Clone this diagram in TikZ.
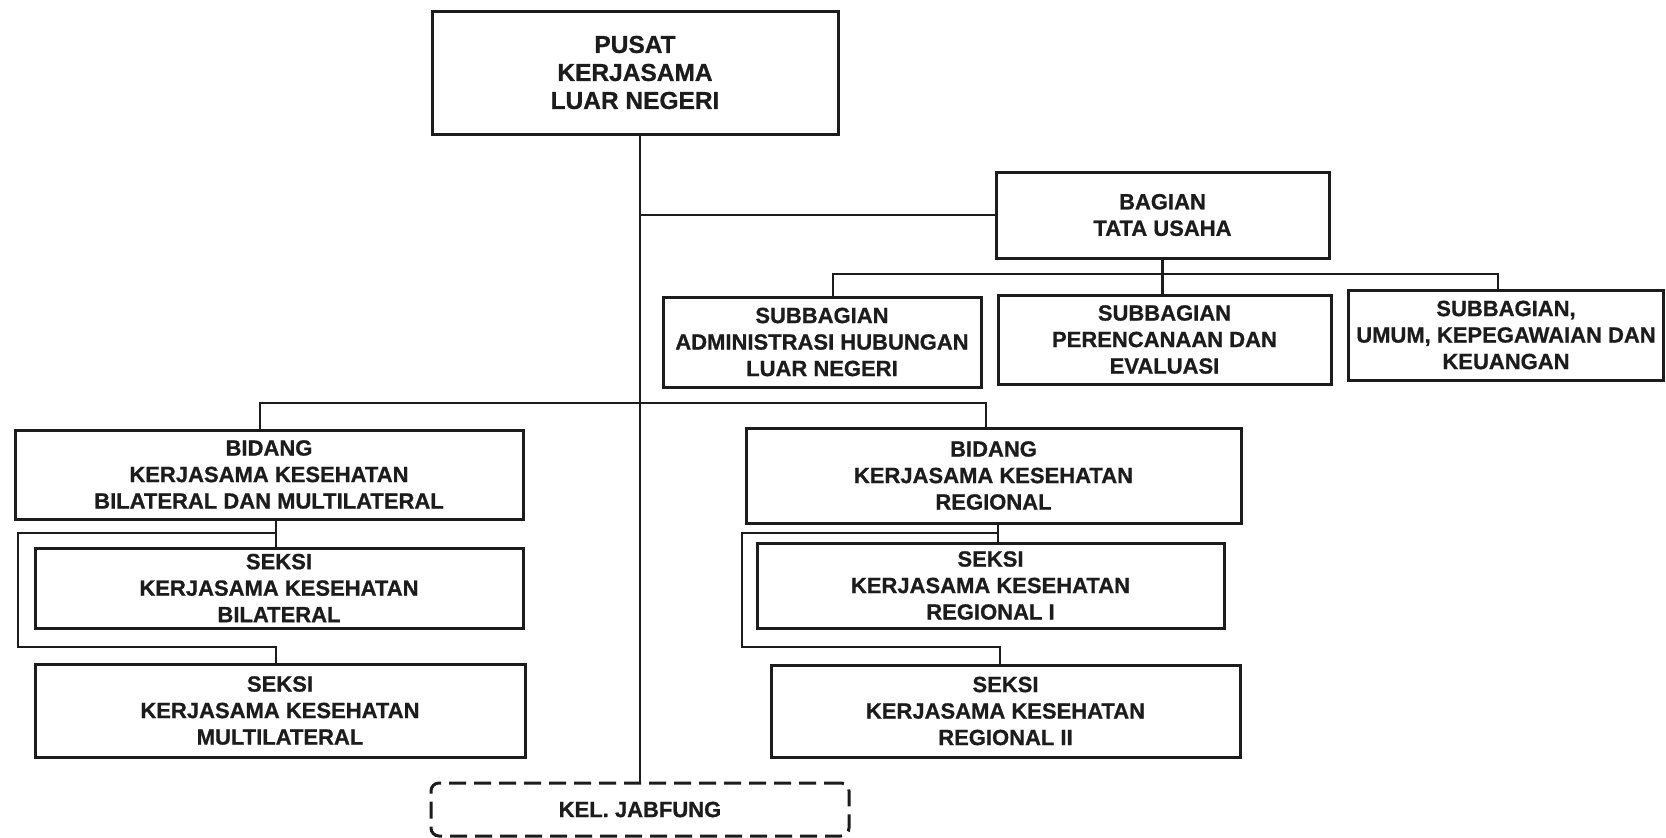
\documentclass[tikz,border=0pt]{standalone}
\usepackage{fontspec}
\setmainfont{Liberation Sans}[BoldFeatures={FakeBold=0.8}]
\usetikzlibrary{calc}
\definecolor{ink}{RGB}{28,28,28}
\begin{document}
\begin{tikzpicture}[x=1pt,y=-1pt,
  box/.style={draw=ink, line width=3pt, inner sep=0pt, outer sep=0pt,
    align=center, text=ink, font=\bfseries\fontsize{22}{26.5}\selectfont},
  kelbox/.style={box, dash pattern=on 17pt off 8pt, rounded corners=8pt},
  link/.style={draw=ink, line width=2.7pt},
]
\useasboundingbox[fill=white] (0,0) rectangle (1666,838);

% top
\node[box, minimum width=406pt, minimum height=123pt,
  font=\bfseries\fontsize{24.5}{28}\selectfont] (pusat) at (635,72.5)
  {PUSAT\\KERJASAMA\\LUAR NEGERI};

% Bagian Tata Usaha
\node[box, minimum width=333pt, minimum height=86pt] (bagian) at (1162.5,215)
  {BAGIAN\\TATA USAHA};
\node[box, minimum width=318pt, minimum height=90pt] (sub1) at (822,342)
  {SUBBAGIAN\\ADMINISTRASI HUBUNGAN\\LUAR NEGERI};
\node[box, minimum width=333pt, minimum height=89pt] (sub2) at (1164.5,339.5)
  {SUBBAGIAN\\PERENCANAAN DAN\\EVALUASI};
\node[box, minimum width=315pt, minimum height=90pt] (sub3) at (1506,335)
  {SUBBAGIAN,\\UMUM, KEPEGAWAIAN DAN\\KEUANGAN};

% Bidang left
\node[box, minimum width=508pt, minimum height=89pt] (bidL) at (269,474.5)
  {BIDANG\\KERJASAMA KESEHATAN\\BILATERAL DAN MULTILATERAL};
\node[box, minimum width=488pt, minimum height=80pt] (sekL1) at (279,588)
  {SEKSI\\KERJASAMA KESEHATAN\\BILATERAL};
\node[box, minimum width=490pt, minimum height=93pt] (sekL2) at (280,710.5)
  {SEKSI\\KERJASAMA KESEHATAN\\MULTILATERAL};

% Bidang right
\node[box, minimum width=495pt, minimum height=95pt] (bidR) at (993.5,475.5)
  {BIDANG\\KERJASAMA KESEHATAN\\REGIONAL};
\node[box, minimum width=467pt, minimum height=85pt] (sekR1) at (990.5,585.5)
  {SEKSI\\KERJASAMA KESEHATAN\\REGIONAL I};
\node[box, minimum width=469pt, minimum height=92pt] (sekR2) at (1005.5,711)
  {SEKSI\\KERJASAMA KESEHATAN\\REGIONAL II};

% Kelompok jabatan fungsional
\node[kelbox, minimum width=418pt, minimum height=53pt] (kel) at (640,809.5)
  {KEL. JABFUNG};

% spine
\draw[link] (pusat.south -| kel.north) -- (kel.north);
\draw[link] (bagian.west) -- (bagian.west -| kel.north);

% tata usaha branches
\draw[link] (bagian.south) -- (bagian.south |- sub2.north);
\draw[link] ($(sub1.north)+(11,0)$) -- ++(0,-23) -| ($(sub3.north)+(-8,0)$);

% bidang bar
\draw[link] ($(bidL.north)+(-9,0)$) -- ++(0,-27) -| ($(bidR.north)+(-7.5,0)$);

% left bracket
\coordinate (jL) at ($(bidL.south)+(7,0)$);
\draw[link] (jL) -- (jL |- sekL1.north);
\draw[link] (jL |- 0,533) -- (18,533) -- (18,647) -- (jL |- 0,647) -- (jL |- sekL2.north);

% right bracket
\coordinate (jR) at ($(bidR.south)+(4.5,0)$);
\draw[link] (jR) -- (jR |- sekR1.north);
\coordinate (jR2) at ($(sekR2.north)+(-5.5,0)$);
\draw[link] (jR |- 0,533) -- (742,533) -- (742,647) -- (jR2 |- 0,647) -- (jR2);
\end{tikzpicture}
\end{document}
